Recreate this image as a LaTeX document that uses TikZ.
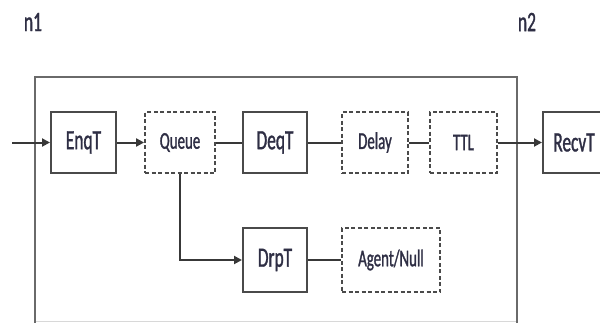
\documentclass[tikz,border=0pt]{standalone}
\usepackage{fontspec}
\setmainfont{Carlito}[FakeStretch=0.62,FakeBold=1.2]
\usetikzlibrary{arrows.meta}
\definecolor{boxline}{HTML}{4A4A4A}
\definecolor{hostline}{HTML}{6A6A6A}
\definecolor{hostfloor}{HTML}{D8D8D8}
\definecolor{wire}{HTML}{383838}
\definecolor{ink}{HTML}{2E2E44}
\begin{document}
\begin{tikzpicture}[x=1pt,y=-1pt,
  solidbox/.style={draw=boxline, line width=2pt, inner sep=0pt,
    minimum height=61pt, text=ink, font=\fontsize{28}{30}\selectfont},
  dashbox/.style={draw=boxline, line width=1.8pt, dash pattern=on 4pt off 2.5pt,
    inner sep=0pt, minimum height=61pt, text=ink, font=\fontsize{24}{26}\selectfont},
  nodelabel/.style={text=ink, font=\fontsize{28}{30}\selectfont, inner sep=0pt},
  link/.style={draw=wire, line width=2pt},
  flow/.style={link, -{Triangle[length=8pt,width=8pt]}}]
  \clip (0,0) rectangle (600,322);

  % host container: bottom edge runs along the lower border, drawn faint
  \draw[hostfloor, line width=1.5pt] (35,321.5) -- (517,321.5);
  \draw[hostline, line width=2pt] (35,323) -- (35,77) -- (517,77) -- (517,323);

  % host labels
  \node[nodelabel] (n1) at (33,22) {n1};
  \node[nodelabel] (n2) at (527,22) {n2};

  % first row
  \node[solidbox, minimum width=65pt] (enqt)  at (83.5,142.5) {EnqT};
  \node[dashbox,  minimum width=70pt] (queue) at (180,142.5)  {Queue};
  \node[solidbox, minimum width=64pt] (deqt)  at (275,142.5)  {DeqT};
  \node[dashbox,  minimum width=66pt] (delay) at (375,142.5)  {Delay};
  \node[dashbox,  minimum width=67pt] (ttl)   at (463.5,142.5) {TTL};
  \node[solidbox, minimum width=62pt] (recvt) at (574,142.5)  {RecvT};

  % second row
  \node[solidbox, minimum width=64pt, minimum height=64pt] (drpt)  at (275,260) {DrpT};
  \node[dashbox,  minimum width=98pt, minimum height=64pt] (agent) at (391,260) {Agent/Null};

  % connectors
  \coordinate (src) at (12,142.5);
  \draw[flow] (src) -- (enqt.west);
  \draw[flow] (enqt) -- (queue);
  \draw[link] (queue) -- (deqt);
  \draw[link] (deqt) -- (delay);
  \draw[link] (delay) -- (ttl);
  \draw[flow] (ttl) -- (recvt);
  \draw[flow] (queue.south) |- (drpt.west);
  \draw[link] (drpt) -- (agent);
\end{tikzpicture}
\end{document}
